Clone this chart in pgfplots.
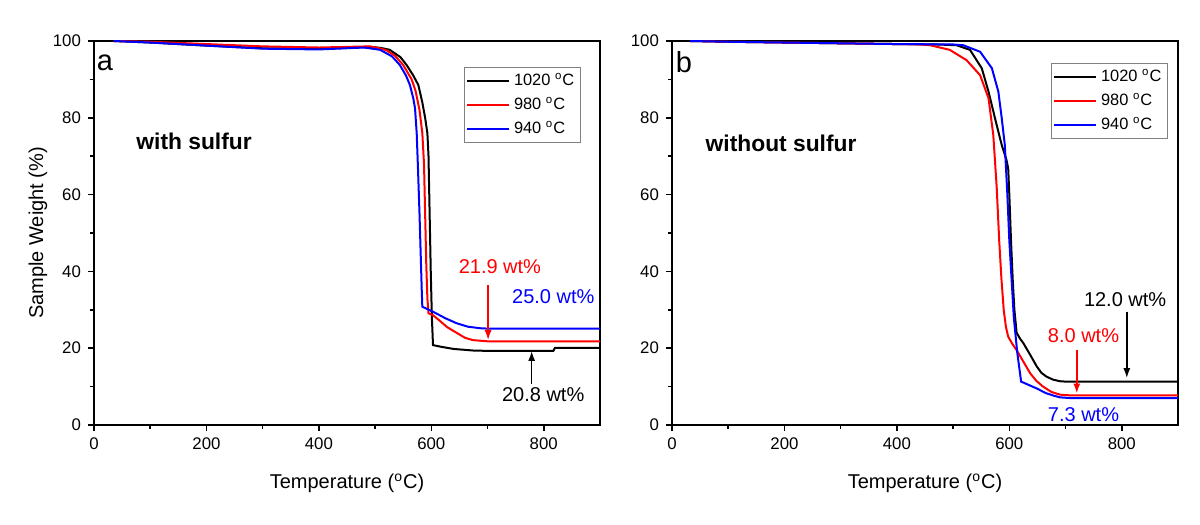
\documentclass[border=0pt]{standalone}
\usepackage{fontspec}
\setmainfont{Liberation Sans}
\usepackage{pgfplots}
\pgfplotsset{compat=1.18}
\usetikzlibrary{arrows.meta}
\newcommand{\annfont}{\fontsize{10bp}{12bp}\selectfont}
\pgfplotsset{tga/.style={
  scale only axis, width=253bp, height=192bp,
  xmin=0,xmax=900,ymin=0,ymax=100,
  xtick={0,200,...,800}, ytick={0,20,...,100},
  minor x tick num=1, minor y tick num=1,
  tick align=outside, xtick pos=left, ytick pos=left,
  major tick length=2.8bp, minor tick length=2bp,
  line width=0.9bp,
  every tick/.style={black, line width=0.8bp},
  tick label style={font=\fontsize{8.4bp}{10bp}\selectfont},
  /pgf/number format/assume math mode=true,
  xlabel={Temperature (\textsuperscript{o}C)},
  every axis x label/.style={at={(axis description cs:0.5,-0.151)}, anchor=center, font=\fontsize{10bp}{12bp}\selectfont},
  legend style={draw=gray, line width=0.5bp, font=\fontsize{8.2bp}{9.5bp}\selectfont, inner sep=1bp, row sep=0.6bp},
  legend cell align=left,
  legend image code/.code={\draw[#1] (0bp,0bp) -- (21bp,0bp);},
}}
\begin{document}
\begin{tikzpicture}
\useasboundingbox (0,0) rectangle (600bp,262.5bp);
% ---------- panel a ----------
\begin{axis}[tga, at={(47bp,50bp)},
  ylabel={Sample Weight (\%)},
  every axis y label/.style={at={(axis description cs:-0.111,0.5)}, rotate=90, anchor=center, font=\fontsize{10bp}{12bp}\selectfont},
  legend style={at={(rel axis cs:0.962,0.932)}, anchor=north east}]
\addplot[black, line width=1bp] coordinates {
(35,100) (100,99.6) (200,98.8) (300,98.1) (400,98.0) (450,98.2) (490,98.5) (510,98.2) (526,97.7) (545,95.8) (556,93.75) (568,91) (577,88.5) (584,84) (589,80) (593,76) (595,70) (597,55) (599,40) (601,28) (603,20.8) (620,20.3) (640,19.8) (674,19.4) (700,19.3) (817,19.3) (820,20.1) (900,20.1)};
\addlegendentry{1020 \textsuperscript{o}C}
\addplot[red, line width=1bp] coordinates {
(35,100) (100,99.8) (200,99.2) (300,98.6) (400,98.3) (490,98.6) (505,98.2) (520,97.6) (535,96.2) (550,93.75) (565,90) (572,87) (579,82) (584,76) (587,68) (589,55) (591,42) (593,33) (595,29.1) (603,28.6) (613,27.4) (628,25.5) (645,24) (660,22.7) (674,22.1) (700,21.8) (900,21.8)};
\addlegendentry{980 \textsuperscript{o}C}
\addplot[blue, line width=1bp] coordinates {
(35,100) (100,99.6) (200,98.8) (300,98.0) (400,97.8) (480,98.3) (495,98.0) (509,97.7) (530,96) (544,93.75) (555,91) (562,88.5) (568,85) (571,82.5) (574,76) (576,68) (579,55) (581,45) (583,35) (584,30.8) (603,29.5) (625,27.8) (645,26.5) (665,25.6) (687,25.2) (700,25.1) (900,25.1)};
\addlegendentry{940 \textsuperscript{o}C}
\node[font=\fontsize{14.5bp}{16bp}\selectfont] at (axis cs:19.6,94.4) {a};
\node[font=\bfseries\fontsize{11.4bp}{13bp}\selectfont] at (axis cs:178,73.8) {with sulfur};
\node[red, font=\annfont] at (axis cs:722,41.2) {21.9 wt\%};
\draw[red, line width=0.8bp, -{Latex[length=5bp,width=3.5bp]}] (axis cs:701,36.5) -- (axis cs:701,22.1);
\node[blue, font=\annfont] at (axis cs:817,33.4) {25.0 wt\%};
\node[black, font=\annfont] at (axis cs:799,7.8) {20.8 wt\%};
\draw[black, line width=0.8bp, -{Latex[length=5bp,width=3.5bp]}] (axis cs:778.5,10.8) -- (axis cs:778.5,19.3);
\end{axis}
% ---------- panel b ----------
\begin{axis}[tga, at={(336bp,50bp)},
  legend style={at={(rel axis cs:0.980,0.942)}, anchor=north east}]
\addplot[black, line width=1bp] coordinates {
(32,100) (100,99.8) (200,99.6) (300,99.4) (400,99.2) (470,99.1) (506,98.9) (530,97.7) (551,92.9) (563,86.8) (574.5,79.9) (586.5,72.9) (595,69) (598,66.8) (600,60) (603,48) (606,38) (609,30) (613,24) (619,22.5) (625,21.3) (637,18.3) (649,15.2) (657,13.6) (666,12.6) (678,11.8) (690,11.4) (700,11.3) (900,11.3)};
\addlegendentry{1020 \textsuperscript{o}C}
\addplot[red, line width=1bp] coordinates {
(32,100) (100,99.8) (200,99.6) (300,99.4) (400,99.2) (440,99.1) (459,98.9) (494,97.7) (524,95) (548,91.1) (563,85.1) (571.5,75.5) (577.5,62) (582,48) (586,38) (590,30) (594,25.5) (598,23) (605,21.2) (613,19.5) (625,16.5) (637,13.5) (648,11.5) (660,10) (675,8.6) (690,7.9) (710,7.7) (900,7.7)};
\addlegendentry{980 \textsuperscript{o}C}
\addplot[blue, line width=1bp] coordinates {
(32,100) (100,99.8) (200,99.6) (300,99.4) (400,99.2) (500,99.1) (518,98.9) (548,97.2) (569,92.9) (580.5,86.8) (586.5,79.9) (592,72.9) (596.5,60) (600,48) (604,38) (608,28) (614,19) (621,11.3) (635,10.4) (649,9.5) (665,8.3) (680,7.6) (690,7.2) (710,7.0) (900,7.0)};
\addlegendentry{940 \textsuperscript{o}C}
\node[font=\fontsize{14.5bp}{16bp}\selectfont] at (axis cs:21.3,94.4) {b};
\node[font=\bfseries\fontsize{11.4bp}{13bp}\selectfont] at (axis cs:194,73.4) {without sulfur};
\node[black, font=\annfont] at (axis cs:806,32.6) {12.0 wt\%};
\draw[black, line width=0.8bp, -{Latex[length=5bp,width=3.5bp]}] (axis cs:809,29.5) -- (axis cs:809,12.2);
\node[red, font=\annfont] at (axis cs:732,23.4) {8.0 wt\%};
\draw[red, line width=0.8bp, -{Latex[length=5bp,width=3.5bp]}] (axis cs:720,19.5) -- (axis cs:720,8.2);
\node[blue, font=\annfont] at (axis cs:732,2.6) {7.3 wt\%};
\end{axis}
\end{tikzpicture}
\end{document}
